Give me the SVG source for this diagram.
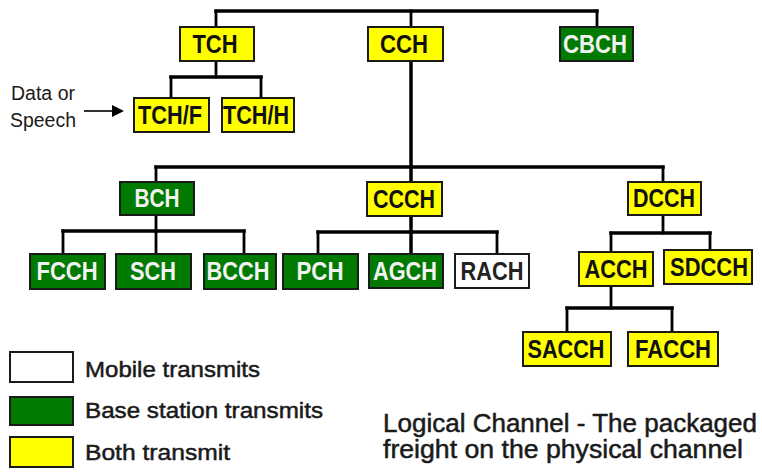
<svg xmlns="http://www.w3.org/2000/svg" width="762" height="472" viewBox="0 0 762 472">
<style>
  .box { stroke: #1a1a1a; stroke-width: 2; }
  .y { fill: #ffff00; }
  .g { fill: #007a00; }
  .w { fill: #ffffff; }
  .lbl { font-family: "Liberation Sans", Arial, sans-serif; font-weight: bold; font-size: 25px; text-anchor: middle; }
  .dk { fill: #111111; }
  .lt { fill: #f2f2f2; }
  .txt { font-family: "Liberation Sans", Arial, sans-serif; fill: #1a1a1a; }
  .semi { stroke: #1a1a1a; stroke-width: 0.5; }
  .ln { stroke: #000; fill: none; stroke-linecap: square; }
  .h { stroke-width: 3.5; }
  .v { stroke-width: 2.8; }
</style>
<rect width="762" height="472" fill="#ffffff"/>
<g id="connectors">
  <line class="ln h" x1="216" y1="11" x2="597" y2="11"/>
  <line class="ln v" x1="216" y1="11" x2="216" y2="27"/>
  <line class="ln v" x1="411" y1="11" x2="411" y2="27"/>
  <line class="ln v" x1="597" y1="11" x2="597" y2="27"/>
  <line class="ln v" x1="216" y1="61" x2="216" y2="77"/>
  <line class="ln h" x1="171" y1="77" x2="261" y2="77"/>
  <line class="ln v" x1="171" y1="77" x2="171" y2="98"/>
  <line class="ln v" x1="261" y1="77" x2="261" y2="98"/>
  <line class="ln h" x1="411" y1="61" x2="411" y2="182"/>
  <line class="ln h" x1="156" y1="167" x2="663" y2="167"/>
  <line class="ln v" x1="156" y1="167" x2="156" y2="182"/>
  <line class="ln v" x1="663" y1="167" x2="663" y2="182"/>
  <line class="ln v" x1="156" y1="215" x2="156" y2="231"/>
  <line class="ln h" x1="63" y1="231" x2="244" y2="231"/>
  <line class="ln v" x1="63" y1="231" x2="63" y2="254"/>
  <line class="ln v" x1="156" y1="231" x2="156" y2="254"/>
  <line class="ln v" x1="244" y1="231" x2="244" y2="254"/>
  <line class="ln h" x1="411" y1="216" x2="411" y2="254"/>
  <line class="ln h" x1="318" y1="232" x2="497" y2="232"/>
  <line class="ln v" x1="318" y1="232" x2="318" y2="254"/>
  <line class="ln v" x1="497" y1="232" x2="497" y2="254"/>
  <line class="ln v" x1="663" y1="215" x2="663" y2="233"/>
  <line class="ln h" x1="611" y1="233" x2="710" y2="233"/>
  <line class="ln v" x1="611" y1="233" x2="611" y2="252"/>
  <line class="ln v" x1="710" y1="233" x2="710" y2="250"/>
  <line class="ln v" x1="611" y1="286" x2="611" y2="308"/>
  <line class="ln h" x1="567" y1="308" x2="672" y2="308"/>
  <line class="ln v" x1="567" y1="308" x2="567" y2="332"/>
  <line class="ln v" x1="672" y1="308" x2="672" y2="332"/>
  <line x1="84" y1="111" x2="114" y2="111" stroke="#000" stroke-width="1.6"/>
  <polygon points="112,105 124,111 112,117" fill="#000"/>
</g>
<g id="TCH"><rect class="box y" x="180" y="27" width="74" height="34"/><text class="lbl dk" x="215" y="53" textLength="45" lengthAdjust="spacingAndGlyphs">TCH</text></g>
<g id="CCH"><rect class="box y" x="368" y="27" width="75" height="34"/><text class="lbl dk" x="404" y="53" textLength="48" lengthAdjust="spacingAndGlyphs">CCH</text></g>
<g id="CBCH"><rect class="box g" x="560" y="27" width="73" height="34"/><text class="lbl lt" x="595" y="53" textLength="64" lengthAdjust="spacingAndGlyphs">CBCH</text></g>
<g id="TCHF"><rect class="box y" x="134" y="98" width="75" height="34"/><text class="lbl dk" x="170" y="124" textLength="64" lengthAdjust="spacingAndGlyphs">TCH/F</text></g>
<g id="TCHH"><rect class="box y" x="222" y="98" width="72" height="34"/><text class="lbl dk" x="256" y="124" textLength="66" lengthAdjust="spacingAndGlyphs">TCH/H</text></g>
<g id="BCH"><rect class="box g" x="120" y="182" width="74" height="33"/><text class="lbl lt" x="157" y="207" textLength="45" lengthAdjust="spacingAndGlyphs">BCH</text></g>
<g id="CCCH"><rect class="box y" x="367" y="182" width="75" height="34"/><text class="lbl dk" x="404" y="208" textLength="62" lengthAdjust="spacingAndGlyphs">CCCH</text></g>
<g id="DCCH"><rect class="box y" x="628" y="182" width="73" height="33"/><text class="lbl dk" x="664" y="207" textLength="62" lengthAdjust="spacingAndGlyphs">DCCH</text></g>
<g id="FCCH"><rect class="box g" x="30" y="254" width="75" height="35"/><text class="lbl lt" x="67" y="280" textLength="61" lengthAdjust="spacingAndGlyphs">FCCH</text></g>
<g id="SCH"><rect class="box g" x="116" y="254" width="75" height="35"/><text class="lbl lt" x="153" y="280" textLength="46" lengthAdjust="spacingAndGlyphs">SCH</text></g>
<g id="BCCH"><rect class="box g" x="204" y="254" width="72" height="35"/><text class="lbl lt" x="238" y="280" textLength="63" lengthAdjust="spacingAndGlyphs">BCCH</text></g>
<g id="PCH"><rect class="box g" x="283" y="254" width="75" height="35"/><text class="lbl lt" x="320" y="280" textLength="47" lengthAdjust="spacingAndGlyphs">PCH</text></g>
<g id="AGCH"><rect class="box g" x="369" y="254" width="74" height="34"/><text class="lbl lt" x="405" y="280" textLength="64" lengthAdjust="spacingAndGlyphs">AGCH</text></g>
<g id="RACH"><rect class="box w" x="455" y="254" width="74" height="34"/><text class="lbl" fill="#222" x="492" y="280" textLength="63" lengthAdjust="spacingAndGlyphs">RACH</text></g>
<g id="ACCH"><rect class="box y" x="579" y="252" width="74" height="34"/><text class="lbl dk" x="616" y="278" textLength="63" lengthAdjust="spacingAndGlyphs">ACCH</text></g>
<g id="SDCCH"><rect class="box y" x="664" y="250" width="88" height="34"/><text class="lbl dk" x="709" y="276" textLength="78" lengthAdjust="spacingAndGlyphs">SDCCH</text></g>
<g id="SACCH"><rect class="box y" x="523" y="332" width="88" height="34"/><text class="lbl dk" x="566" y="358" textLength="77" lengthAdjust="spacingAndGlyphs">SACCH</text></g>
<g id="FACCH"><rect class="box y" x="628" y="332" width="90" height="34"/><text class="lbl dk" x="673" y="358" textLength="76" lengthAdjust="spacingAndGlyphs">FACCH</text></g>
<g id="input-label">
  <text class="txt" x="11" y="100" font-size="20" fill="#333" textLength="64" lengthAdjust="spacingAndGlyphs">Data or</text>
  <text class="txt" x="10" y="127" font-size="20" fill="#333" textLength="66" lengthAdjust="spacingAndGlyphs">Speech</text>
</g>
<g id="legend">
  <rect class="box w" x="10" y="352" width="63" height="30"/>
  <rect class="box g" x="10" y="397" width="63" height="28"/>
  <rect class="box y" x="10" y="437" width="63" height="30"/>
  <text class="txt semi" x="85" y="377" font-size="22" textLength="175" lengthAdjust="spacingAndGlyphs">Mobile transmits</text>
  <text class="txt semi" x="85" y="418" font-size="22" textLength="238" lengthAdjust="spacingAndGlyphs">Base station transmits</text>
  <text class="txt semi" x="85" y="460" font-size="22" textLength="145" lengthAdjust="spacingAndGlyphs">Both transmit</text>
</g>
<g id="caption">
  <text class="txt semi" x="383" y="432" font-size="25" textLength="374" lengthAdjust="spacingAndGlyphs">Logical Channel - The packaged</text>
  <text class="txt semi" x="383" y="458" font-size="25" textLength="360" lengthAdjust="spacingAndGlyphs">freight on the physical channel</text>
</g>
</svg>
